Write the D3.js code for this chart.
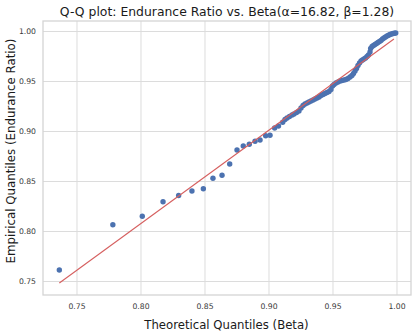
<!DOCTYPE html>
<html>
<head>
<meta charset="utf-8">
<script src="https://cdn.jsdelivr.net/npm/d3@7"></script>
<style>
  html, body { margin: 0; padding: 0; background: #fff; }
  svg { display: block; }
  text { font-family: "DejaVu Sans", sans-serif; }
</style>
</head>
<body>
<div id="chart"></div>
<script>
const titleText = "Q-Q plot: Endurance Ratio vs. Beta(α=16.82, β=1.28)";
const xLabel = "Theoretical Quantiles (Beta)";
const yLabel = "Empirical Quantiles (Endurance Ratio)";
const xTicks = [0.75, 0.80, 0.85, 0.90, 0.95, 1.00];
const yTicks = [0.75, 0.80, 0.85, 0.90, 0.95, 1.00];

const theoretical = [
  0.7366, 0.7784, 0.8014, 0.8176, 0.8298, 0.8402, 0.8491, 0.8566, 0.8637, 0.8697,
  0.8754, 0.8803, 0.8850, 0.8895, 0.8934, 0.8978, 0.9012, 0.9048, 0.9078, 0.9111,
  0.9129, 0.9145, 0.9164, 0.9184, 0.9199, 0.9219, 0.9238, 0.9254, 0.9270, 0.9285,
  0.9301, 0.9316, 0.9332, 0.9348, 0.9363, 0.9379, 0.9395, 0.9410, 0.9426, 0.9441,
  0.9457, 0.9473, 0.9488, 0.9500, 0.9512, 0.9527, 0.9543, 0.9559, 0.9574, 0.9590,
  0.9605, 0.9621, 0.9637, 0.9652, 0.9664, 0.9676, 0.9688, 0.9699, 0.9711, 0.9723,
  0.9734, 0.9746, 0.9758, 0.9770, 0.9781, 0.9793, 0.9798, 0.9809, 0.9820, 0.9832,
  0.9844, 0.9855, 0.9867, 0.9879, 0.9891, 0.9902, 0.9914, 0.9926, 0.9938, 0.9949,
  0.9961, 0.9973, 0.9984, 0.9994
];
const empirical = [
  0.7610, 0.8063, 0.8147, 0.8293, 0.8355, 0.8400, 0.8423, 0.8527, 0.8557, 0.8670,
  0.8810, 0.8850, 0.8867, 0.8897, 0.8910, 0.8953, 0.8957, 0.9030, 0.9050, 0.9087,
  0.9115, 0.9130, 0.9145, 0.9160, 0.9170, 0.9185, 0.9200, 0.9230, 0.9255, 0.9270,
  0.9280, 0.9290, 0.9300, 0.9310, 0.9320, 0.9330, 0.9340, 0.9355, 0.9365, 0.9375,
  0.9385, 0.9395, 0.9415, 0.9450, 0.9465, 0.9480, 0.9490, 0.9500, 0.9505, 0.9510,
  0.9515, 0.9525, 0.9540, 0.9555, 0.9575, 0.9600, 0.9625, 0.9655, 0.9680, 0.9700,
  0.9710, 0.9720, 0.9730, 0.9745, 0.9760, 0.9790, 0.9825, 0.9845, 0.9855, 0.9865,
  0.9875, 0.9885, 0.9895, 0.9905, 0.9920, 0.9930, 0.9940, 0.9950, 0.9958, 0.9965,
  0.9970, 0.9975, 0.9978, 0.9980
];
const fitLineX = [0.7366, 0.998];
const fitLineY = [0.748, 0.992];

const W = 416, H = 332;
const plot = { left: 43, right: 411, top: 21, bottom: 295 };

const x = d3.scaleLinear().domain([0.72383, 1.01133]).range([plot.left, plot.right]);
const y = d3.scaleLinear().domain([0.736, 1.010]).range([plot.bottom, plot.top]);

const svg = d3.select("#chart").append("svg").attr("width", W).attr("height", H);

// grid
const gx = svg.append("g").attr("transform", `translate(0,${plot.bottom})`)
  .call(d3.axisBottom(x).tickValues(xTicks).tickFormat(d3.format(".2f"))
    .tickSize(-(plot.bottom - plot.top)).tickPadding(9));
const gy = svg.append("g").attr("transform", `translate(${plot.left},0)`)
  .call(d3.axisLeft(y).tickValues(yTicks).tickFormat(d3.format(".2f"))
    .tickSize(-(plot.right - plot.left)).tickPadding(7));
[gx, gy].forEach(g => {
  g.select(".domain").remove();
  g.selectAll(".tick line").attr("stroke", "#dcdcdc").attr("stroke-width", 1);
  g.selectAll(".tick text").attr("fill", "#3a3a3a").style("font-size", "7.7px")
    .style("font-family", "DejaVu Sans, sans-serif");
});

// frame
svg.append("rect")
  .attr("x", plot.left).attr("y", plot.top)
  .attr("width", plot.right - plot.left).attr("height", plot.bottom - plot.top)
  .attr("fill", "none").attr("stroke", "#d4d4d4").attr("stroke-width", 1.3);

// points
const pts = theoretical.map((t, i) => ({ t, e: empirical[i] }));
svg.append("g").selectAll("circle").data(pts).join("circle")
  .attr("cx", d => x(d.t)).attr("cy", d => y(d.e)).attr("r", 2.7)
  .attr("fill", "#4c72b0");

// fit line
svg.append("line")
  .attr("x1", x(fitLineX[0])).attr("y1", y(fitLineY[0]))
  .attr("x2", x(fitLineX[1])).attr("y2", y(fitLineY[1]))
  .attr("stroke", "#d65f5f").attr("stroke-width", 1.1);

// title
svg.append("text").attr("x", (plot.left + plot.right) / 2).attr("y", 15.5)
  .attr("text-anchor", "middle").style("font-size", "12.4px").attr("fill", "#1a1a1a")
  .text(titleText);

// axis labels
svg.append("text").attr("x", (plot.left + plot.right) / 2 - 0.5).attr("y", 329)
  .attr("text-anchor", "middle").style("font-size", "11.7px").attr("fill", "#1a1a1a")
  .text(xLabel);
svg.append("text").attr("transform", `translate(15,${(plot.top + plot.bottom) / 2 - 7}) rotate(-90)`)
  .attr("text-anchor", "middle").style("font-size", "11.8px").attr("fill", "#1a1a1a")
  .text(yLabel);
</script>
</body>
</html>
